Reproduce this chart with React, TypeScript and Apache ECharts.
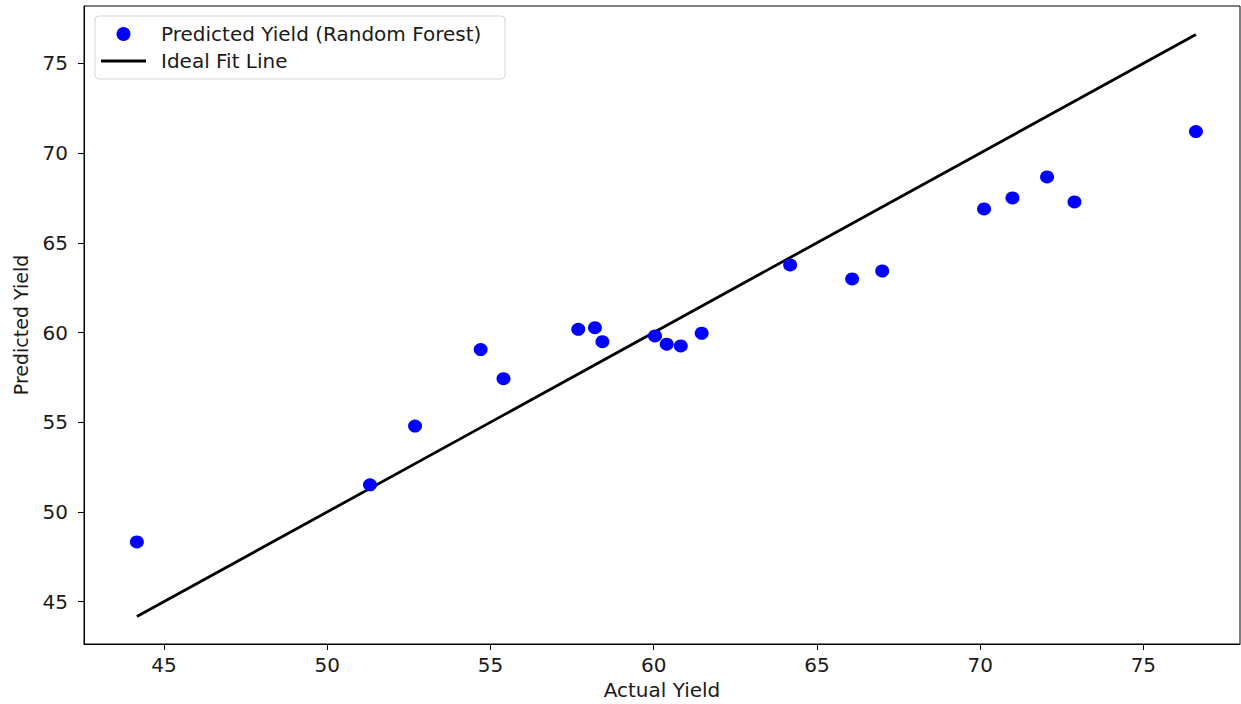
import React, { useEffect, useRef } from "react";
import * as echarts from "echarts";

// Actual vs predicted yield (Random Forest)
const actualYield = [
  44.17, 51.31, 52.69, 54.7, 55.4, 57.69, 58.2, 58.43, 60.04, 60.4,
  60.83, 61.47, 64.18, 66.08, 67.0, 70.12, 70.99, 72.05, 72.89, 76.61,
];
const predictedYield = [
  48.33, 51.51, 54.79, 59.05, 57.43, 60.18, 60.27, 59.49, 59.81, 59.35,
  59.25, 59.96, 63.77, 62.99, 63.43, 66.89, 67.5, 68.67, 67.28, 71.2,
];
const xTicks = [45, 50, 55, 60, 65, 70, 75];
const yTicks = [45, 50, 55, 60, 65, 70, 75];
const seriesNames = ["Predicted Yield (Random Forest)", "Ideal Fit Line"];

const FONT = "DejaVu Sans";
const TEXT = "#1a1a1a";

export default function App() {
  const ref = useRef<HTMLDivElement>(null);
  useEffect(() => {
    if (!ref.current) return;
    const chart = echarts.init(ref.current, null, { renderer: "svg" });
    const lo = Math.min(...actualYield);
    const hi = Math.max(...actualYield);
    const scatterData = actualYield.map((a, i) => [a, predictedYield[i]]);
    chart.setOption({
      animation: false,
      backgroundColor: "#ffffff",
      textStyle: { fontFamily: FONT },
      grid: {
        left: 84,
        right: 1,
        top: 6,
        bottom: 60,
        show: true,
        borderColor: "#000",
        borderWidth: 1,
        backgroundColor: "transparent",
        outerBoundsMode: "none",
      },
      xAxis: {
        type: "value",
        min: 42.55,
        max: 77.96,
        name: "Actual Yield",
        nameLocation: "middle",
        nameGap: 36,
        nameTextStyle: { fontFamily: FONT, fontSize: 20, color: TEXT },
        axisLine: { show: true, onZero: false, lineStyle: { color: "#000", width: 1 } },
        axisTick: { show: true, length: 6, customValues: xTicks, lineStyle: { color: "#000" } },
        axisLabel: { customValues: xTicks, fontFamily: FONT, fontSize: 20, color: TEXT, margin: 11 },
        splitLine: { show: false },
      },
      yAxis: {
        type: "value",
        min: 42.64,
        max: 78.2,
        name: "Predicted Yield",
        nameLocation: "middle",
        nameGap: 54,
        nameTextStyle: { fontFamily: FONT, fontSize: 19, color: TEXT },
        axisLine: { show: true, onZero: false, lineStyle: { color: "#000", width: 1 } },
        axisTick: { show: true, length: 6, customValues: yTicks, lineStyle: { color: "#000" } },
        axisLabel: { customValues: yTicks, fontFamily: FONT, fontSize: 20, color: TEXT, margin: 16 },
        splitLine: { show: false },
      },
      graphic: [
        {
          type: "rect",
          z: 3,
          shape: { x: 95, y: 16, width: 410, height: 63, r: 4 },
          style: { fill: "rgba(255,255,255,0.8)", stroke: "#d6d6d6", lineWidth: 1 },
        },
      ],
      legend: {
        orient: "vertical",
        left: 95,
        top: 16,
        padding: [8, 10, 8, 6],
        itemWidth: 45,
        itemHeight: 14,
        itemGap: 7,
        z: 5,
        data: [
          { name: seriesNames[0], icon: "circle" },
          {
            name: seriesNames[1],
            icon: "path://M0,0 L45,0 L45,3 L0,3 Z",
            itemStyle: { color: "#000", borderWidth: 0 },
          },
        ],
        textStyle: { fontFamily: FONT, fontSize: 20, color: TEXT, padding: [0, 0, 0, 10] },
      },
      series: [
        {
          name: seriesNames[0],
          type: "scatter",
          data: scatterData,
          symbol: "circle",
          symbolSize: [14, 13],
          itemStyle: { color: "#0000ff", opacity: 1 },
          z: 3,
        },
        {
          name: seriesNames[1],
          type: "line",
          data: [
            [lo, lo],
            [hi, hi],
          ],
          symbol: "none",
          showSymbol: false,
          lineStyle: { color: "#000", width: 2.8 },
          itemStyle: { color: "#000" },
          z: 2,
        },
      ],
    });
    return () => chart.dispose();
  }, []);
  return (
    <div
      ref={ref}
      style={{ position: "fixed", left: 0, top: 0, width: 1241, height: 704 }}
    />
  );
}
